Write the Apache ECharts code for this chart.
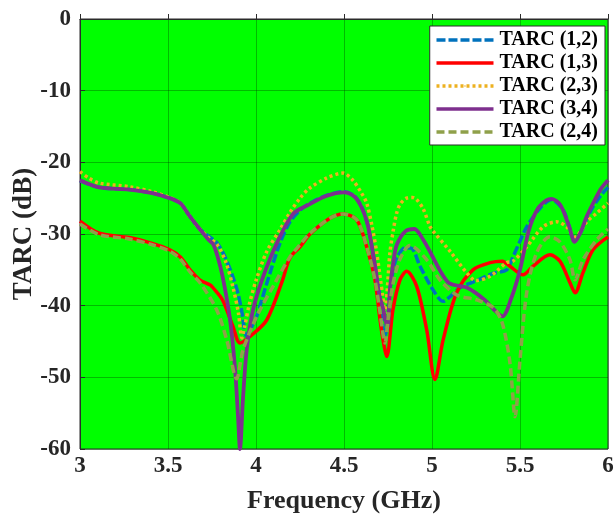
<!DOCTYPE html>
<html>
<head>
<meta charset="utf-8">
<title>TARC</title>
<script src="https://cdn.jsdelivr.net/npm/echarts@6/dist/echarts.min.js"></script>
<style>
  html, body { margin: 0; padding: 0; background: #ffffff; }
  #chart { width: 615px; height: 515px; }
</style>
</head>
<body>
<div id="chart"></div>
<script>
// Axis ticks
const xTicks = [3, 3.5, 4, 4.5, 5, 5.5, 6];
const yTicks = [0, -10, -20, -30, -40, -50, -60];

// TARC (1,2)
const freq12 = [3.0,3.11,3.28,3.41,3.51,3.57,3.62,3.68,3.73,3.777,3.82,3.869,3.9,3.919,3.947,3.975,4.004,4.061,4.136,4.193,4.25,4.3,4.4,4.5,4.56,4.6,4.63,4.65,4.68,4.71,4.73,4.745,4.76,4.78,4.8,4.85,4.885,4.932,5.006,5.063,5.1,5.159,5.254,5.347,5.424,5.46,5.5,5.538,5.614,5.68,5.744,5.78,5.801,5.841,5.88,5.915,5.96,6.0];
const tarc12 = [-22.6,-23.5,-23.8,-24.3,-25.0,-25.7,-27.4,-29.3,-30.3,-31.2,-33.0,-36.0,-38.5,-40.8,-44.3,-43.0,-41.5,-36.9,-31.3,-28.3,-26.7,-25.8,-24.6,-24.1,-24.7,-26.2,-28.3,-30.6,-35.0,-39.5,-44.3,-43.0,-38.0,-35.0,-33.3,-31.9,-32.0,-34.5,-37.8,-39.4,-38.8,-37.5,-36.5,-35.5,-35.0,-33.2,-31.0,-29.0,-26.4,-25.2,-26.6,-29.0,-30.5,-29.9,-27.8,-26.2,-24.6,-23.5];

// TARC (1,3)
const freq13 = [3.0,3.11,3.28,3.41,3.51,3.57,3.625,3.68,3.74,3.756,3.81,3.869,3.909,3.966,4.061,4.15,4.193,4.25,4.307,4.42,4.494,4.572,4.629,4.676,4.705,4.722,4.743,4.778,4.818,4.856,4.913,4.97,5.017,5.063,5.14,5.233,5.33,5.4,5.443,5.517,5.574,5.67,5.727,5.784,5.813,5.858,5.915,6.0];
const tarc13 = [-28.2,-29.9,-30.5,-31.3,-32.2,-33.2,-35.0,-36.4,-37.1,-37.5,-39.2,-42.9,-45.2,-44.3,-42.0,-36.5,-33.3,-31.8,-30.0,-27.8,-27.2,-28.0,-31.8,-36.4,-42.0,-44.8,-47.1,-40.6,-36.4,-35.2,-37.3,-43.4,-50.3,-44.8,-38.2,-35.0,-34.0,-33.8,-34.5,-35.7,-34.5,-32.9,-33.8,-36.8,-38.2,-35.4,-32.2,-30.4];

// TARC (2,3)
const freq23 = [3.0,3.05,3.11,3.28,3.41,3.51,3.57,3.62,3.68,3.73,3.78,3.83,3.87,3.9,3.92,3.935,3.96,4.0,4.06,4.136,4.193,4.25,4.3,4.4,4.494,4.55,4.6,4.629,4.66,4.686,4.72,4.733,4.745,4.761,4.78,4.799,4.82,4.856,4.89,4.913,4.95,4.989,5.006,5.102,5.197,5.25,5.33,5.424,5.46,5.538,5.631,5.708,5.765,5.813,5.879,5.94,6.0];
const tarc23 = [-21.3,-22.2,-22.9,-23.4,-24.1,-24.9,-25.7,-27.4,-29.3,-30.5,-31.5,-34.0,-37.5,-41.0,-44.5,-43.0,-40.0,-36.5,-32.5,-29.4,-27.0,-25.0,-23.7,-22.2,-21.5,-22.5,-24.3,-25.7,-29.0,-32.6,-38.7,-41.0,-38.0,-32.6,-29.5,-27.1,-25.8,-25.0,-24.9,-25.2,-26.5,-29.0,-29.6,-32.4,-35.4,-36.5,-35.9,-34.0,-33.8,-31.8,-29.0,-28.3,-29.0,-30.4,-28.3,-27.0,-25.7];

// TARC (3,4)
const freq34 = [3.0,3.11,3.28,3.41,3.51,3.57,3.62,3.68,3.73,3.756,3.78,3.81,3.85,3.88,3.898,3.909,3.926,3.947,3.983,4.04,4.118,4.21,4.3,4.4,4.5,4.56,4.6,4.63,4.65,4.68,4.7,4.72,4.74,4.75,4.76,4.78,4.8,4.85,4.9,4.95,5.0,5.05,5.1,5.2,5.3,5.35,5.4,5.45,5.5,5.55,5.6,5.65,5.68,5.73,5.78,5.81,5.84,5.88,5.92,5.96,6.0];
const tarc34 = [-22.5,-23.5,-23.8,-24.3,-25.0,-25.7,-27.4,-29.3,-30.8,-31.4,-33.0,-35.9,-41.5,-48.5,-55.5,-60.0,-53.0,-46.2,-40.6,-36.0,-31.3,-27.2,-25.9,-24.7,-24.2,-24.8,-26.3,-28.3,-30.6,-35.0,-38.5,-40.2,-42.5,-42.9,-38.0,-34.0,-31.5,-29.6,-29.3,-30.8,-33.0,-35.3,-36.9,-37.5,-39.2,-40.5,-41.5,-39.0,-35.0,-29.5,-26.5,-25.3,-25.1,-26.0,-29.0,-31.1,-30.0,-27.5,-25.5,-23.7,-22.5];

// TARC (2,4)
const freq24 = [3.0,3.11,3.28,3.41,3.51,3.57,3.625,3.682,3.777,3.834,3.89,3.926,4.004,4.097,4.193,4.25,4.307,4.42,4.494,4.572,4.629,4.676,4.705,4.733,4.75,4.778,4.818,4.875,4.97,5.045,5.14,5.254,5.35,5.4,5.443,5.472,5.5,5.538,5.595,5.67,5.727,5.784,5.813,5.858,5.936,6.0];
const tarc24 = [-28.6,-30.1,-30.7,-31.5,-32.4,-33.5,-35.3,-36.8,-40.6,-44.8,-50.2,-46.2,-41.5,-37.3,-33.2,-31.5,-29.9,-27.8,-27.2,-28.0,-31.8,-36.4,-41.0,-45.2,-42.0,-37.0,-33.5,-31.6,-33.6,-36.4,-38.5,-39.2,-40.3,-42.5,-48.0,-55.5,-47.6,-38.2,-32.6,-30.4,-31.1,-33.6,-36.4,-33.6,-30.8,-29.3];

const pairs = (xs, ys) => xs.map((x, i) => [x, ys[i]]);

const serif = '"Liberation Serif", "Times New Roman", serif';

function lineSeries(name, xs, ys, color, type, width) {
  return {
    name: name,
    type: 'line',
    data: pairs(xs, ys),
    showSymbol: false,
    symbol: 'none',
    smooth: 0.3,
    clip: true,
    lineStyle: { color: color, width: width, type: type },
    itemStyle: { color: color },
    emphasis: { disabled: true },
    animation: false
  };
}

const chart = echarts.init(document.getElementById('chart'), null, { renderer: 'canvas' });

chart.setOption({
  animation: false,
  backgroundColor: '#ffffff',
  grid: {
    left: 80, right: 7, top: 19, bottom: 66,
    outerBoundsMode: 'none',
    containLabel: false,
    show: true,
    backgroundColor: '#00ff00',
    borderColor: '#2b2b2b',
    borderWidth: 1
  },
  legend: {
    orient: 'vertical',
    right: 10,
    top: 26,
    backgroundColor: '#ffffff',
    borderColor: '#2b2b2b',
    borderWidth: 1,
    padding: [4, 7, 3, 5],
    itemGap: 3,
    itemWidth: 57,
    itemHeight: 2,
    lineStyle: { width: 3.5 },
    textStyle: { fontFamily: serif, fontWeight: 'bold', fontSize: 20, color: '#000', padding: [0, 0, 0, 1] },
    data: ['TARC (1,2)', 'TARC (1,3)', 'TARC (2,3)', 'TARC (3,4)', 'TARC (2,4)']
  },
  xAxis: {
    type: 'value',
    min: 3, max: 6, interval: 0.5,
    name: 'Frequency (GHz)',
    nameLocation: 'middle',
    nameGap: 39,
    nameMoveOverlap: false,
    nameTextStyle: { fontFamily: serif, fontWeight: 'bold', fontSize: 26, color: '#262626' },
    axisLine: { lineStyle: { color: '#2b2b2b', width: 1 } },
    axisTick: { show: true, inside: true, length: 5, lineStyle: { color: '#2b2b2b' } },
    axisLabel: {
      fontFamily: serif, fontWeight: 'bold', fontSize: 23, color: '#262626', margin: 6,
      formatter: v => String(xTicks.find(t => Math.abs(t - v) < 1e-9) ?? v)
    },
    splitLine: { show: true, lineStyle: { color: 'rgba(0,60,0,0.35)', width: 1 } }
  },
  yAxis: {
    type: 'value',
    min: -60, max: 0, interval: 10,
    name: 'TARC (dB)',
    nameLocation: 'middle',
    nameGap: 42,
    nameMoveOverlap: false,
    nameTextStyle: { fontFamily: serif, fontWeight: 'bold', fontSize: 27, color: '#262626' },
    axisLine: { show: true, lineStyle: { color: '#2b2b2b', width: 1 } },
    axisTick: { show: true, inside: true, length: 5, lineStyle: { color: '#2b2b2b' } },
    axisLabel: {
      fontFamily: serif, fontWeight: 'bold', fontSize: 23, color: '#262626', margin: 9,
      formatter: v => String(yTicks.find(t => Math.abs(t - v) < 1e-9) ?? v)
    },
    splitLine: { show: true, lineStyle: { color: 'rgba(0,60,0,0.35)', width: 1 } }
  },
  series: [
    lineSeries('TARC (1,2)', freq12, tarc12, '#0072BD', [9, 3], 3.5),
    lineSeries('TARC (1,3)', freq13, tarc13, '#FF0000', 'solid', 3.5),
    lineSeries('TARC (2,3)', freq23, tarc23, '#EDB120', [3, 3], 3.5),
    lineSeries('TARC (3,4)', freq34, tarc34, '#7E2F8E', 'solid', 3.8),
    lineSeries('TARC (2,4)', freq24, tarc24, '#8FA04A', [8, 4], 3.5)
  ]
});
</script>
</body>
</html>
